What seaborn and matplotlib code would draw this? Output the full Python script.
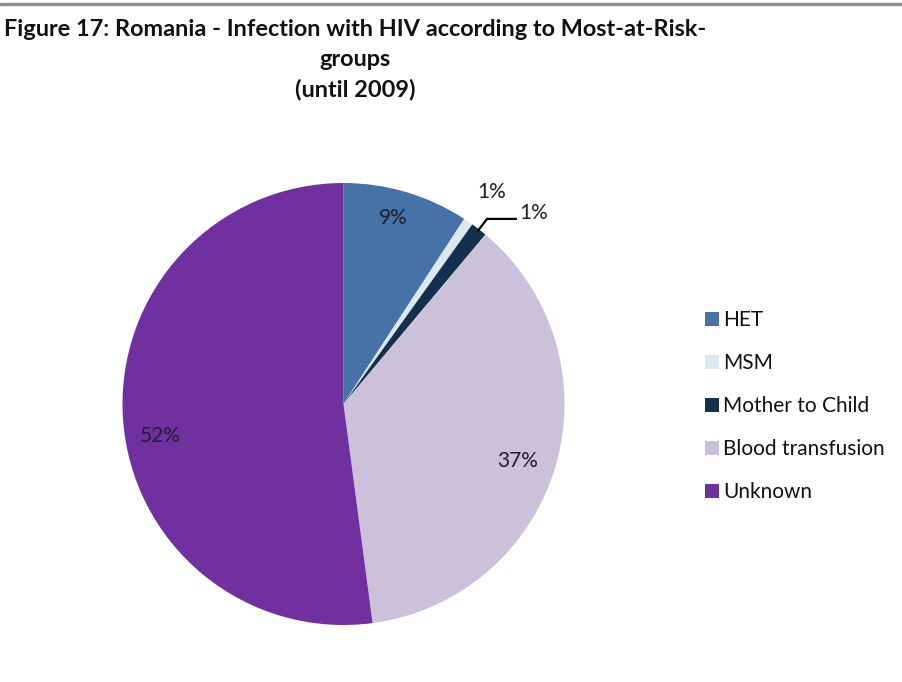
import matplotlib
matplotlib.use("Agg")
import matplotlib.pyplot as plt
import numpy as np
import seaborn as sns
from matplotlib.lines import Line2D

# Routes of HIV transmission, Romania (cumulative until 2009), percent
groups = ["HET", "MSM", "Mother to Child", "Blood transfusion", "Unknown"]
shares = [9.2, 0.7, 1.2, 36.8, 52.1]
colors = ["#4672A8", "#DCE8F0", "#15304F", "#CCC1DA", "#7030A0"]

title_lines = ["Figure 17: Romania - Infection with HIV according to Most-at-Risk-",
               "groups", "(until 2009)"]

sns.set_theme(style="white")
plt.rcParams["font.family"] = ["Lato", "DejaVu Sans"]

W, H = 903, 682
fig = plt.figure(figsize=(W / 100, H / 100), dpi=100)
fig.patch.set_facecolor("white")

# pie placement in pixels (centre and radius)
cx, cy, R = 343.5, H - 404, 221
x0, x1, y0, y1 = 60, 640, 40, 620
ax = fig.add_axes([x0 / W, y0 / H, (x1 - x0) / W, (y1 - y0) / H])

palette = sns.color_palette(colors)
wedges, _ = ax.pie(shares, colors=palette, startangle=90, counterclock=False,
                   radius=1.0, wedgeprops=dict(linewidth=0))
ax.set_xlim((x0 - cx) / R, (x1 - cx) / R)
ax.set_ylim((y0 - cy) / R, (y1 - cy) / R)
ax.set_aspect("equal")
ax.axis("off")

# percentage labels: distance from centre per slice (in radii)
label_dist = [0.87, 1.17, 1.22, 0.83, 0.84]
label_offset = [1.5, -0.5, -7, -2, 6]  # angular nudge in degrees
txt_color = "#1e1e2e"
for i, (w, v) in enumerate(zip(wedges, shares)):
    mid = (w.theta1 + w.theta2) / 2
    ang = np.deg2rad(mid + label_offset[i])
    d = label_dist[i]
    x, y = d * np.cos(ang), d * np.sin(ang)
    ax.text(x, y, f"{round(v)}%", ha="center", va="center",
            fontsize=15, color=txt_color)
    if groups[i] == "Mother to Child":
        m = np.deg2rad(mid)
        ex, ey = 0.99 * np.cos(m), 0.99 * np.sin(m)
        bx, by = 1.06 * np.cos(m), 1.06 * np.sin(m)
        ax.plot([ex, bx, x - 0.075], [ey, by, by], color="black", lw=1.6,
                solid_capstyle="butt", clip_on=False)

# legend on the right
handles = [plt.Rectangle((0, 0), 1, 1, facecolor=c, edgecolor="none") for c in palette]
leg = fig.legend(handles, groups, loc="upper left",
                 bbox_to_anchor=(695 / W, 1 - 300 / H), frameon=False,
                 fontsize=15, handlelength=0.65, handleheight=0.65,
                 handletextpad=0.2, labelspacing=1.1, borderpad=0)
for t in leg.get_texts():
    t.set_color("#111111")

# title
for k, line in enumerate(title_lines):
    fig.text(355 / W, 1 - (30 + 29.5 * k) / H, line, ha="center", va="center",
             fontsize=16.9, fontweight="bold", color="#111111")

# thin grey rule along the top edge
fig.add_artist(Line2D([0, 1], [1 - 4 / H, 1 - 4 / H], transform=fig.transFigure,
                      color="#8c8c8c", lw=2.5))

fig.savefig("out.png", dpi=100, facecolor="white")
